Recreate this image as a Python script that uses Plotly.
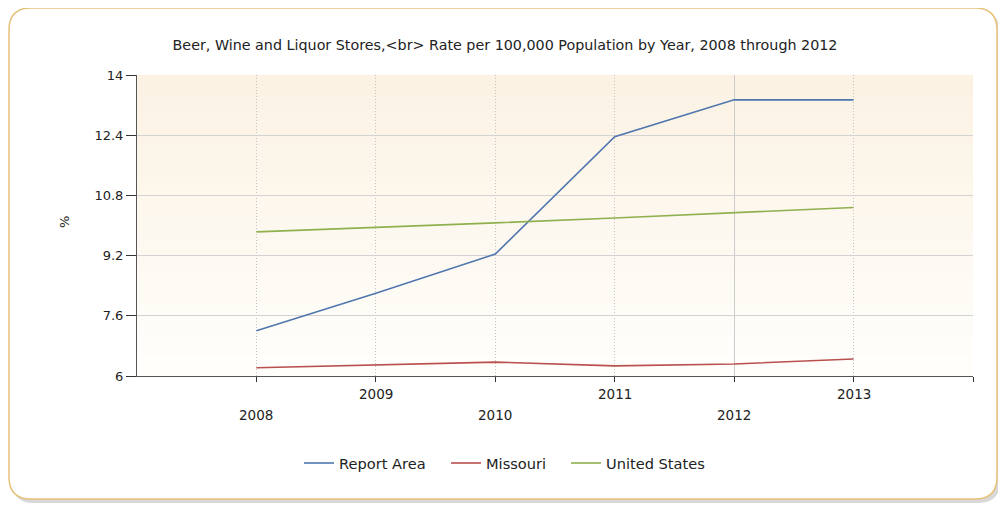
import plotly.graph_objects as go

years = [2008, 2009, 2010, 2011, 2012, 2013]
report_area = [7.2, 8.2, 9.24, 12.36, 13.34, 13.34]
missouri = [6.22, 6.29, 6.37, 6.27, 6.32, 6.45]
united_states = [9.83, 9.94, 10.07, 10.2, 10.33, 10.48]
series_names = ["Report Area", "Missouri", "United States"]
series_colors = ["#4F76AE", "#B9504E", "#8FB04E"]
y_ticks = [6, 7.6, 9.2, 10.8, 12.4, 14]
solid_grid_years = [2012]

# page offset (browser body margin)
OFF = 8
PAGE_W, PAGE_H = 1006, 506
W, H = PAGE_W - OFF, PAGE_H - OFF
# plot area in page pixels
PX0, PX1, PY0, PY1 = 137, 973, 75, 376
L, R, T, B = PX0 - OFF, W - (PX1 - OFF), PY0 - OFF, H - (PY1 - OFF)
PW, PH = PX1 - PX0, PY1 - PY0
FONT = "DejaVu Sans"
LEGEND_LINE_STARTS = [305, 452, 572]


def px(x):
    return (x - PX0) / PW


def py(y):
    return (PY1 - y) / PH


def rrect(x0, y0, x1, y1, r):
    pts = [
        ("M", px(x0 + r), py(y0)),
        ("L", px(x1 - r), py(y0)),
        ("Q", px(x1), py(y0), px(x1), py(y0 + r)),
        ("L", px(x1), py(y1 - r)),
        ("Q", px(x1), py(y1), px(x1 - r), py(y1)),
        ("L", px(x0 + r), py(y1)),
        ("Q", px(x0), py(y1), px(x0), py(y1 - r)),
        ("L", px(x0), py(y0 + r)),
        ("Q", px(x0), py(y0), px(x0 + r), py(y0)),
    ]
    s = ""
    for p in pts:
        if p[0] == "Q":
            s += f"Q{p[1]:.5f},{p[2]:.5f} {p[3]:.5f},{p[4]:.5f} "
        else:
            s += f"{p[0]}{p[1]:.5f},{p[2]:.5f} "
    return s + "Z"


fig = go.Figure()
legend_keys = ["legend", "legend2", "legend3"]
for name, vals, col, lk in zip(series_names, [report_area, missouri, united_states],
                               series_colors, legend_keys):
    fig.add_trace(go.Scatter(x=years, y=vals, mode="lines", name=name, legend=lk,
                             line=dict(color=col, width=1.6)))

shapes = []
shapes.append(dict(type="path", xref="paper", yref="paper", path=rrect(12, 11, 1000, 503, 22),
                   fillcolor="#D8D8D8", line=dict(width=0), layer="below"))
shapes.append(dict(type="path", xref="paper", yref="paper", path=rrect(9, 8, 997, 499, 22),
                   fillcolor="white", line=dict(color="#E6C27A", width=1.5), layer="below"))
n = 30
top = (251, 242, 227)
bot = (255, 254, 251)
for i in range(n):
    f = i / (n - 1)
    c = tuple(round(top[k] + (bot[k] - top[k]) * f) for k in range(3))
    shapes.append(dict(type="rect", xref="x domain", yref="y domain",
                       x0=0, x1=1, y0=1 - (i + 1) / n, y1=1 - i / n + 0.001,
                       fillcolor=f"rgb{c}", line=dict(width=0), layer="below"))

annotations = []
for i, yr in enumerate(years):
    annotations.append(dict(x=yr, xref="x", y=py(394 if i % 2 == 1 else 415), yref="paper",
                            text=str(yr), showarrow=False, yanchor="middle", xanchor="center",
                            font=dict(family=FONT, size=13.5, color="#222")))
annotations.append(dict(x=px(64), xref="paper", y=py(222), yref="paper", text="%", textangle=-90,
                        showarrow=False, xanchor="center", yanchor="middle",
                        font=dict(family=FONT, size=13, color="#222")))

legends = {}
for lk, xs in zip(legend_keys, LEGEND_LINE_STARTS):
    legends[lk] = dict(orientation="h", x=px(xs - 6), xanchor="left", y=py(463), yanchor="middle",
                       font=dict(family=FONT, size=14.6, color="#222"), bgcolor="rgba(0,0,0,0)")

fig.update_layout(
    width=W, height=H,
    margin=dict(l=L, r=R, t=T, b=B, autoexpand=False),
    paper_bgcolor="white",
    plot_bgcolor="rgba(0,0,0,0)",
    title=dict(text="Beer, Wine and Liquor Stores,&lt;br&gt; Rate per 100,000 Population by Year, 2008 through 2012",
               x=px(505), xanchor="center", xref="paper", y=1 - (45 - OFF) / H, yanchor="middle",
               yref="container",
               font=dict(family=FONT, size=14.3, color="#222")),
    showlegend=True,
    shapes=shapes,
    annotations=annotations,
    **legends,
)
major_x = [v for v in years + [2014] if v not in solid_grid_years]
fig.update_xaxes(range=[2007, 2014], tickvals=major_x, showticklabels=False,
                 ticks="outside", ticklen=5, tickcolor="#333", showline=True, linecolor="#555",
                 linewidth=1, showgrid=True, gridcolor="#C4C4C4", griddash="1px,2px", gridwidth=1,
                 zeroline=False,
                 minor=dict(tickvals=solid_grid_years, ticks="outside", ticklen=5, tickcolor="#333",
                            showgrid=True, gridcolor="#CCCCCC", griddash="solid", gridwidth=1))
fig.update_yaxes(range=[6, 14], tickvals=y_ticks, ticktext=[f"{v:g}" for v in y_ticks],
                 ticks="outside", ticklen=10, tickcolor="#333", showline=True, linecolor="#555",
                 linewidth=1, showgrid=True, gridcolor="#D3D3D3", gridwidth=1, zeroline=False,
                 tickfont=dict(family=FONT, size=13, color="#222"))

fig.write_html("out.html")
